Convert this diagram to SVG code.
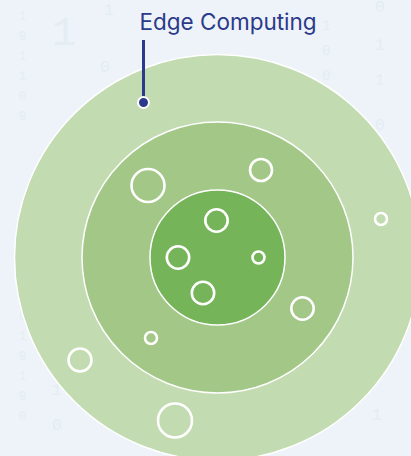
<svg xmlns="http://www.w3.org/2000/svg" width="411" height="456" viewBox="0 0 411 456">
  <style>
    .bg { fill: #edf3f8; }
    .digits text { font-family: "Liberation Mono", monospace; fill: #e3edf2; }
    .ring { stroke: #ffffff; stroke-width: 1.5; }
    .outer { fill: #c2dbb0; }
    .middle { fill: #a2c786; }
    .inner { fill: #76b45a; }
    .dot { fill: none; stroke: #ffffff; stroke-width: 2.6; }
    .label { font-family: Inter, "Noto Sans", sans-serif; font-size: 22.5px; fill: #2b3a8a; }
    .leader { stroke: #2b3a8a; stroke-width: 3; }
  </style>

  <rect class="bg" x="0" y="0" width="411" height="456"/>

  <!-- faint binary backdrop -->
  <g class="digits">
    <text x="19" y="20" font-size="12">1</text>
    <text x="19" y="40" font-size="12">0</text>
    <text x="19" y="60" font-size="12">1</text>
    <text x="19" y="80" font-size="12">1</text>
    <text x="19" y="100" font-size="12">0</text>
    <text x="19" y="120" font-size="12">0</text>
    <text x="19" y="300" font-size="12">1</text>
    <text x="19" y="320" font-size="12">0</text>
    <text x="19" y="340" font-size="12">1</text>
    <text x="19" y="360" font-size="12">0</text>
    <text x="19" y="380" font-size="12">1</text>
    <text x="19" y="400" font-size="12">0</text>
    <text x="19" y="420" font-size="12">0</text>
    <text x="52" y="45" font-size="40">1</text>
    <text x="100" y="72" font-size="16">0</text>
    <text x="104" y="15" font-size="16">1</text>
    <text x="322" y="30" font-size="14">1</text>
    <text x="322" y="55" font-size="14">0</text>
    <text x="322" y="80" font-size="14">0</text>
    <text x="375" y="12" font-size="16">0</text>
    <text x="375" y="50" font-size="16">1</text>
    <text x="375" y="85" font-size="16">1</text>
    <text x="375" y="130" font-size="16">0</text>
    <text x="372" y="340" font-size="16">1</text>
    <text x="372" y="380" font-size="16">0</text>
    <text x="372" y="420" font-size="16">1</text>
    <text x="52" y="395" font-size="16">1</text>
    <text x="52" y="430" font-size="16">0</text>
  </g>

  <!-- concentric zones -->
  <g id="zone-outer">
    <circle class="ring outer" cx="217.5" cy="257.5" r="203"/>
  </g>
  <g id="zone-middle">
    <circle class="ring middle" cx="217.5" cy="257.5" r="135.5"/>
  </g>
  <g id="zone-inner">
    <circle class="ring inner" cx="217.5" cy="257.5" r="67.5"/>
  </g>

  <!-- device markers -->
  <g id="devices">
    <circle class="dot" cx="148" cy="185.5" r="16.5"/>
    <circle class="dot" cx="261" cy="170" r="11"/>
    <circle class="dot" cx="216.5" cy="220.5" r="11.2"/>
    <circle class="dot" cx="178" cy="257.5" r="11.2"/>
    <circle class="dot" cx="258.5" cy="257.5" r="6"/>
    <circle class="dot" cx="203" cy="293" r="11.2"/>
    <circle class="dot" cx="302.5" cy="308.5" r="11.2"/>
    <circle class="dot" cx="381" cy="219" r="6"/>
    <circle class="dot" cx="151" cy="338" r="6"/>
    <circle class="dot" cx="80" cy="360" r="11.5"/>
    <circle class="dot" cx="175" cy="420.5" r="17"/>
  </g>

  <!-- callout -->
  <g id="connectors">
    <line class="leader" x1="143.5" y1="40" x2="143.5" y2="100"/>
    <circle cx="143.5" cy="102.5" r="5.5" fill="#2b3a8a" stroke="#ffffff" stroke-width="2"/>
  </g>
  <g id="label-edge">
    <text class="label" x="139.5" y="30">Edge Computing</text>
  </g>
</svg>
